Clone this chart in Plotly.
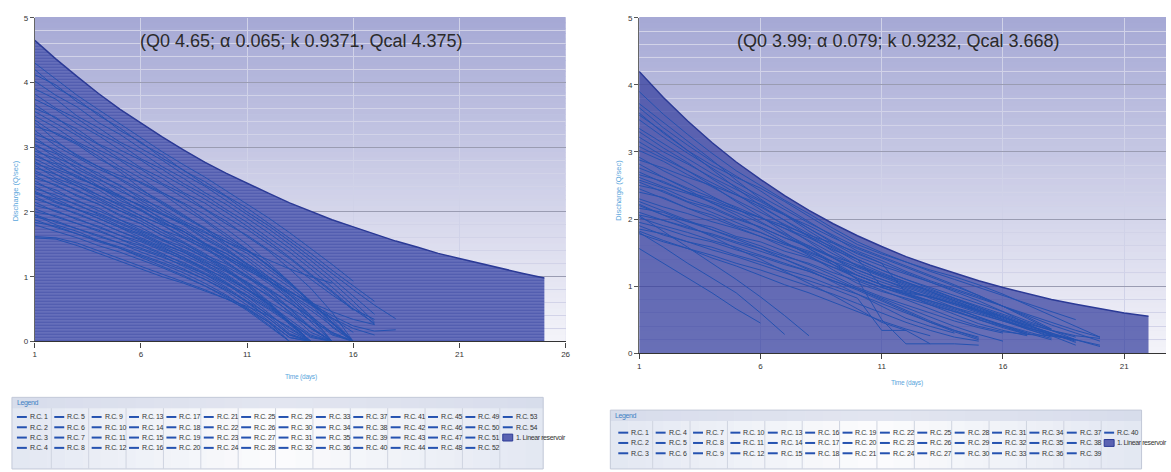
import plotly.graph_objects as go

W, H = 1171, 472

# ---------------- data ----------------
days_left = list(range(1, 26))
reservoir_left = [4.65, 4.36, 4.09, 3.83, 3.59, 3.37, 3.16, 2.96, 2.77, 2.60, 2.44, 2.29, 2.14,
                  2.01, 1.88, 1.77, 1.66, 1.55, 1.46, 1.36, 1.28, 1.20, 1.12, 1.05, 0.98]

days_right = list(range(1, 23))
reservoir_right = [4.20, 3.81, 3.46, 3.14, 2.85, 2.59, 2.35, 2.13, 1.93, 1.75, 1.59, 1.44, 1.31,
                   1.19, 1.08, 0.98, 0.89, 0.80, 0.73, 0.66, 0.60, 0.55]

# recession curves, one value per day starting at day 1
rc_left = [
    [4.30, 4.05, 3.80, 3.58, 3.36, 3.14, 2.93, 2.73, 2.54, 2.33, 2.12, 1.91, 1.68, 1.44, 1.19, 0.93],
    [4.20, 3.92, 3.74, 3.49, 3.30, 3.06, 2.88, 2.64, 2.47, 2.25, 2.06, 1.83, 1.60, 1.36, 1.10, 0.86, 0.62],
    [4.12, 3.96, 3.70, 3.52, 3.26, 3.08, 2.83, 2.65, 2.42, 2.24, 2.00, 1.79, 1.55, 1.30, 1.04, 0.80, 0.56, 0.35],
    [4.02, 3.80, 3.62, 3.38, 3.20, 2.98, 2.80, 2.58, 2.40, 2.18, 1.97, 1.74, 1.50, 1.25, 0.98, 0.70, 0.42],
    [3.90, 3.74, 3.48, 3.30, 3.08, 2.92, 2.70, 2.52, 2.30, 2.12, 1.90, 1.68, 1.44, 1.18, 0.92, 0.62, 0.30],
    [3.82, 3.60, 3.44, 3.22, 3.05, 2.82, 2.66, 2.44, 2.26, 2.04, 1.84, 1.60, 1.38, 1.12, 0.84, 0.55, 0.26],
    [3.74, 3.58, 3.36, 3.18, 2.96, 2.80, 2.58, 2.40, 2.20, 2.00, 1.78, 1.55, 1.30, 1.04, 0.78, 0.50, 0.28],
    [3.66, 3.44, 3.28, 3.05, 2.90, 2.68, 2.52, 2.30, 2.14, 1.92, 1.73, 1.50, 1.28, 1.02, 0.76, 0.48],
    [3.60, 3.46, 3.22, 3.04, 2.82, 2.66, 2.44, 2.28, 2.05, 1.86, 1.62, 1.40, 1.12, 0.82, 0.45, 0.00],
    [3.55, 3.36, 3.18, 2.96, 2.80, 2.58, 2.42, 2.22, 2.04, 1.82, 1.64, 1.42, 1.20, 0.96, 0.72, 0.50, 0.34],
    [3.48, 3.30, 3.08, 2.92, 2.70, 2.52, 2.30, 2.12, 1.88, 1.66, 1.42, 1.18, 0.90, 0.60, 0.28, 0.00],
    [3.42, 3.20, 3.04, 2.82, 2.66, 2.44, 2.28, 2.05, 1.86, 1.62, 1.42, 1.16, 0.90, 0.60, 0.30, 0.00],
    [3.38, 3.10, 2.86, 2.70, 2.56, 2.46, 2.30, 2.14, 1.96, 1.74, 1.50, 1.22, 0.92, 0.58, 0.22, 0.00],
    [3.32, 3.22, 3.06, 2.86, 2.62, 2.36, 2.12, 1.92, 1.74, 1.58, 1.40, 1.18, 0.92, 0.62, 0.30, 0.00],
    [3.26, 3.02, 2.84, 2.66, 2.52, 2.34, 2.16, 1.96, 1.74, 1.50, 1.26, 1.00, 0.72, 0.40, 0.00],
    [3.20, 3.08, 2.88, 2.70, 2.50, 2.30, 2.14, 1.94, 1.76, 1.54, 1.36, 1.12, 0.88, 0.62, 0.36, 0.14],
    [3.15, 2.92, 2.74, 2.60, 2.40, 2.24, 2.02, 1.84, 1.64, 1.44, 1.20, 0.96, 0.68, 0.36, 0.00],
    [3.10, 2.96, 2.76, 2.56, 2.42, 2.20, 2.06, 1.86, 1.70, 1.48, 1.30, 1.06, 0.84, 0.58, 0.34, 0.00],
    [3.05, 2.84, 2.70, 2.52, 2.32, 2.18, 1.98, 1.82, 1.60, 1.42, 1.18, 0.94, 0.64, 0.30, 0.00],
    [3.02, 2.90, 2.66, 2.50, 2.36, 2.14, 1.96, 1.80, 1.58, 1.40, 1.20, 1.00, 0.78, 0.56, 0.36, 0.20, 0.10],
    [2.98, 2.76, 2.62, 2.40, 2.26, 2.08, 1.90, 1.70, 1.52, 1.30, 1.06, 0.80, 0.52, 0.22, 0.00],
    [2.94, 2.82, 2.60, 2.46, 2.24, 2.10, 1.88, 1.74, 1.52, 1.36, 1.14, 0.94, 0.72, 0.48, 0.24, 0.00],
    [2.90, 2.70, 2.56, 2.38, 2.22, 2.02, 1.86, 1.66, 1.46, 1.24, 1.00, 0.74, 0.44, 0.14, 0.00],
    [2.86, 2.74, 2.52, 2.40, 2.18, 2.04, 1.84, 1.70, 1.50, 1.32, 1.12, 0.90, 0.66, 0.40, 0.12, 0.00],
    [2.82, 2.66, 2.54, 2.38, 2.24, 2.10, 1.96, 1.82, 1.68, 1.54, 1.40, 1.26, 1.12, 1.00, 0.90],
    [2.78, 2.58, 2.44, 2.26, 2.12, 1.94, 1.80, 1.60, 1.44, 1.22, 1.02, 0.78, 0.50, 0.20, 0.00],
    [2.75, 2.64, 2.46, 2.34, 2.14, 2.02, 1.82, 1.70, 1.50, 1.36, 1.16, 0.98, 0.78, 0.58, 0.40, 0.24, 0.16, 0.18],
    [2.72, 2.52, 2.40, 2.22, 2.06, 1.90, 1.72, 1.54, 1.36, 1.14, 0.90, 0.62, 0.30, 0.00],
    [2.68, 2.58, 2.40, 2.26, 2.10, 1.94, 1.80, 1.62, 1.48, 1.30, 1.14, 0.94, 0.74, 0.52, 0.28, 0.00],
    [2.64, 2.46, 2.34, 2.16, 2.02, 1.86, 1.68, 1.52, 1.32, 1.12, 0.88, 0.60, 0.30, 0.00],
    [2.60, 2.50, 2.32, 2.20, 2.02, 1.90, 1.72, 1.60, 1.42, 1.28, 1.10, 0.94, 0.76, 0.60, 0.46, 0.34, 0.26],
    [2.56, 2.40, 2.26, 2.12, 1.96, 1.82, 1.64, 1.48, 1.30, 1.10, 0.86, 0.58, 0.26, 0.00],
    [2.52, 2.42, 2.24, 2.12, 1.94, 1.82, 1.64, 1.52, 1.34, 1.20, 1.00, 0.82, 0.60, 0.36, 0.10, 0.00],
    [2.48, 2.30, 2.18, 2.02, 1.88, 1.72, 1.58, 1.40, 1.24, 1.04, 0.82, 0.58, 0.30, 0.00],
    [2.44, 2.34, 2.16, 2.06, 1.88, 1.76, 1.58, 1.46, 1.30, 1.16, 0.98, 0.80, 0.60, 0.38, 0.14, 0.00],
    [2.40, 2.22, 2.12, 1.96, 1.82, 1.68, 1.52, 1.38, 1.20, 1.02, 0.80, 0.56, 0.28, 0.00],
    [2.36, 2.26, 2.10, 1.98, 1.84, 1.70, 1.56, 1.42, 1.26, 1.10, 0.92, 0.70, 0.46, 0.20, 0.00],
    [2.32, 2.16, 2.04, 1.90, 1.76, 1.60, 1.46, 1.30, 1.12, 0.92, 0.70, 0.44, 0.16, 0.00],
    [2.28, 2.20, 2.04, 1.94, 1.78, 1.66, 1.50, 1.38, 1.22, 1.08, 0.90, 0.72, 0.52, 0.32, 0.14, 0.00],
    [2.24, 2.08, 1.98, 1.84, 1.70, 1.56, 1.42, 1.26, 1.10, 0.90, 0.66, 0.40, 0.12, 0.00],
    [2.20, 2.10, 1.96, 1.84, 1.70, 1.58, 1.44, 1.30, 1.14, 0.96, 0.76, 0.54, 0.30, 0.06, 0.00],
    [2.15, 2.00, 1.90, 1.76, 1.64, 1.50, 1.36, 1.20, 1.04, 0.84, 0.62, 0.36, 0.10, 0.00],
    [2.10, 2.02, 1.88, 1.78, 1.64, 1.54, 1.40, 1.28, 1.12, 0.98, 0.80, 0.62, 0.42, 0.22, 0.00],
    [2.05, 1.92, 1.82, 1.70, 1.58, 1.44, 1.32, 1.16, 1.00, 0.82, 0.60, 0.36, 0.10, 0.00],
    [2.00, 1.94, 1.82, 1.72, 1.58, 1.48, 1.34, 1.22, 1.06, 0.90, 0.72, 0.52, 0.30, 0.08, 0.00],
    [1.96, 1.84, 1.74, 1.62, 1.52, 1.38, 1.26, 1.12, 0.96, 0.78, 0.56, 0.32, 0.06, 0.00],
    [1.92, 1.86, 1.74, 1.64, 1.52, 1.42, 1.30, 1.18, 1.04, 0.88, 0.70, 0.50, 0.28, 0.00],
    [1.88, 1.76, 1.66, 1.54, 1.44, 1.32, 1.20, 1.06, 0.90, 0.72, 0.50, 0.26, 0.00],
    [1.84, 1.78, 1.66, 1.56, 1.46, 1.34, 1.22, 1.10, 0.96, 0.80, 0.62, 0.42, 0.20, 0.00],
    [1.80, 1.70, 1.60, 1.48, 1.38, 1.26, 1.14, 1.00, 0.86, 0.68, 0.48, 0.24, 0.00],
    [1.62, 1.60, 1.52, 1.40, 1.28, 1.16, 1.04, 0.92, 0.80, 0.66, 0.50, 0.30, 0.00],
    [1.60, 1.58, 1.48, 1.36, 1.24, 1.12, 1.00, 0.90, 0.78, 0.66, 0.54, 0.40, 0.22, 0.00, 0.00, 0.00,
     0.00, 0.00, 0.00, 0.00, 0.00, 0.00, 0.00],
    [1.95, 1.80, 1.70, 1.56, 1.44, 1.30, 1.16, 1.02, 0.86, 0.70, 0.52, 0.30, 0.06, 0.00],
    [2.30, 2.14, 2.04, 1.90, 1.76, 1.64, 1.48, 1.34, 1.18, 1.00, 0.80, 0.58, 0.34, 0.10, 0.00],
]

rc_right = [
    [3.90, 3.56, 3.26, 2.98, 2.72, 2.50, 2.28, 2.08, 1.86, 1.66, 1.50, 1.36, 1.22, 1.10, 0.98, 0.86, 0.74, 0.62, 0.50],
    [3.72, 3.44, 3.16, 2.88, 2.58, 2.30, 2.06, 1.82, 1.60, 1.40, 1.24, 1.10, 0.98, 0.86, 0.74, 0.62, 0.48, 0.36],
    [3.66, 3.36, 3.10, 2.86, 2.64, 2.42, 2.18, 1.96, 1.74, 1.52, 1.38, 1.22, 1.08, 0.96, 0.84, 0.70, 0.56, 0.42, 0.30, 0.18],
    [3.55, 3.30, 3.02, 2.74, 2.46, 2.20, 1.98, 1.74, 1.52, 1.30, 1.16, 1.02, 0.90, 0.78, 0.66, 0.54, 0.42, 0.30],
    [3.48, 3.22, 2.98, 2.76, 2.54, 2.34, 2.14, 1.94, 1.76, 1.58, 1.44, 1.30, 1.16, 1.02, 0.86, 0.70, 0.52, 0.34, 0.20, 0.10],
    [3.30, 3.06, 2.84, 2.60, 2.38, 2.14, 1.90, 1.66, 1.42, 1.20, 1.06, 0.94, 0.84, 0.74, 0.62, 0.50, 0.38, 0.28],
    [3.22, 3.00, 2.82, 2.62, 2.44, 2.26, 2.06, 1.86, 1.66, 1.48, 1.34, 1.20, 1.06, 0.92, 0.78, 0.62, 0.44, 0.26, 0.12],
    [3.15, 2.94, 2.72, 2.50, 2.26, 2.04, 1.80, 1.56, 1.32, 1.10, 0.98, 0.88, 0.78, 0.68, 0.58, 0.48, 0.38, 0.28, 0.20],
    [3.08, 2.90, 2.72, 2.54, 2.36, 2.18, 1.98, 1.78, 1.56, 1.36, 1.20, 1.06, 0.92, 0.78, 0.64, 0.50, 0.36, 0.24],
    [3.02, 2.86, 2.66, 2.48, 2.28, 2.10, 1.92, 1.74, 1.58, 1.40, 1.00, 0.92, 0.84, 0.74, 0.64, 0.54, 0.42, 0.30, 0.16],
    [2.92, 2.72, 2.54, 2.34, 2.16, 1.96, 1.76, 1.56, 1.36, 1.16, 1.02, 0.90, 0.78, 0.66, 0.54, 0.42, 0.30, 0.20],
    [2.88, 2.76, 2.62, 2.50, 2.36, 2.22, 2.06, 1.90, 1.72, 1.56, 1.42, 1.28, 1.14, 1.00, 0.86, 0.70, 0.54, 0.36],
    [2.82, 2.62, 2.44, 2.24, 2.06, 1.86, 1.66, 1.46, 1.24, 1.04, 0.92, 0.82, 0.72, 0.62, 0.52, 0.42, 0.32, 0.22],
    [2.76, 2.62, 2.46, 2.32, 2.18, 2.02, 1.86, 1.68, 1.48, 1.30, 1.16, 1.04, 0.92, 0.80, 0.68, 0.56, 0.44, 0.34, 0.26, 0.22],
    [2.70, 2.54, 2.40, 2.24, 2.10, 1.94, 1.78, 1.60, 1.42, 1.24, 1.10, 0.96, 0.82, 0.68, 0.54, 0.40, 0.28],
    [2.66, 2.56, 2.40, 2.30, 2.14, 2.02, 1.86, 1.72, 1.54, 1.40, 1.24, 1.10, 0.96, 0.82, 0.68, 0.54, 0.40],
    [2.62, 2.48, 2.38, 2.26, 2.14, 2.02, 1.90, 1.76, 1.64, 1.50, 1.34, 0.90, 0.84, 0.72, 0.60, 0.48, 0.36, 0.26, 0.20],
    [2.58, 2.46, 2.30, 2.18, 2.02, 1.88, 1.72, 1.58, 1.42, 1.28, 1.14, 1.00, 0.88, 0.76, 0.64, 0.52, 0.40, 0.30, 0.20],
    [2.55, 2.40, 2.26, 2.10, 1.96, 1.80, 1.64, 1.48, 1.32, 1.16, 1.02, 0.88, 0.76, 0.64, 0.50, 0.38, 0.28],
    [2.50, 2.42, 2.26, 2.16, 2.00, 1.88, 1.72, 1.60, 1.44, 1.32, 1.18, 1.06, 0.94, 0.82, 0.70, 0.58, 0.46, 0.34, 0.24],
    [2.45, 2.30, 2.16, 2.02, 1.88, 1.74, 1.58, 1.44, 1.28, 1.12, 0.98, 0.86, 0.74, 0.62, 0.50, 0.40, 0.30],
    [2.40, 2.32, 2.16, 2.06, 1.90, 1.80, 1.64, 1.52, 1.36, 1.24, 1.10, 0.98, 0.86, 0.74, 0.62, 0.50, 0.38, 0.28, 0.18],
    [2.30, 2.18, 2.08, 1.96, 1.86, 1.74, 1.62, 1.50, 1.36, 1.10, 0.50, 0.14, 0.14],
    [2.20, 2.06, 1.96, 1.84, 1.72, 1.60, 1.46, 1.32, 1.16, 0.98, 0.84, 0.72, 0.60, 0.48, 0.38, 0.30],
    [2.16, 2.10, 1.96, 1.88, 1.74, 1.66, 1.52, 1.42, 1.28, 1.16, 1.02, 0.88, 0.72, 0.58, 0.44, 0.34, 0.26],
    [2.10, 1.98, 1.88, 1.76, 1.64, 1.52, 1.40, 1.26, 1.12, 0.96, 0.80, 0.64, 0.48, 0.34, 0.22],
    [2.06, 1.98, 1.86, 1.78, 1.66, 1.56, 1.44, 1.34, 1.20, 1.08, 0.94, 0.80, 0.66, 0.52, 0.40, 0.32, 0.28, 0.26, 0.20, 0.12],
    [2.02, 1.90, 1.80, 1.68, 1.58, 1.46, 1.34, 1.22, 1.08, 0.94, 0.78, 0.62, 0.46, 0.32, 0.20],
    [1.95, 1.86, 1.74, 1.66, 1.54, 1.44, 1.32, 1.22, 1.08, 0.96, 0.82, 0.68, 0.54, 0.40, 0.28, 0.18],
    [1.90, 1.76, 1.66, 1.54, 1.44, 1.32, 1.20, 1.08, 0.96, 0.82, 0.34, 0.34, 0.14, 0.14, 0.12],
    [1.85, 1.78, 1.66, 1.58, 1.46, 1.36, 1.24, 1.14, 1.00, 0.88, 0.74, 0.60, 0.46, 0.34, 0.24],
    [1.82, 1.68, 1.56, 1.42, 1.30, 1.16, 1.02, 0.90, 0.76, 0.62, 0.48, 0.36, 0.26],
    [1.78, 1.66, 1.56, 1.46, 1.34, 1.24, 1.12, 1.00, 0.88, 0.74, 0.60, 0.46, 0.34, 0.24, 0.18],
    [2.22, 2.06, 1.90, 1.74, 1.56, 1.40, 1.22, 1.04, 0.86, 0.66, 0.46, 0.34],
    [1.56, 1.34, 1.12, 0.90, 0.66, 0.45],
    [1.80, 1.58, 1.34, 1.12, 0.90, 0.60, 0.28],
    [2.05, 1.82, 1.58, 1.34, 1.10, 0.84, 0.56, 0.26],
    [2.26, 2.12, 1.98, 1.84, 1.70, 1.56, 1.40, 1.24, 1.06, 0.88, 0.70, 0.52, 0.40, 0.30],
    [3.58, 3.28, 3.02, 2.80, 2.62, 2.46, 2.26, 2.04, 1.82, 1.62, 1.48, 1.36, 1.24, 1.14, 1.02, 0.88, 0.72, 0.56, 0.40, 0.24],
    [3.35, 3.12, 2.90, 2.68, 2.48, 2.28, 2.08, 1.86, 1.64, 1.44, 1.30, 1.18, 1.06, 0.94, 0.82, 0.70, 0.58, 0.46, 0.34, 0.24],
]

names_left = [f"R.C. {i + 1}" for i in range(len(rc_left))]
names_right = [f"R.C. {i + 1}" for i in range(len(rc_right))]
reservoir_name = "1. Linear reservoir"

params_left = "(Q0 4.65; α 0.065; k 0.9371, Qcal 4.375)"
params_right = "(Q0 3.99; α 0.079; k 0.9232, Qcal 3.668)"

x_ticks_left = [1, 6, 11, 16, 21, 26]
x_ticks_right = [1, 6, 11, 16, 21]
y_ticks = [0, 1, 2, 3, 4, 5]

# ---------------- styling ----------------
SANS = "Liberation Sans, Arial, sans-serif"
LINE_BLUE = "#2552b0"
TITLE_BLUE = "#5aa6dc"


def px(x):
    return x / W


def py(y):
    return 1 - y / H


def mix(c0, c1, t):
    return "rgb(%d,%d,%d)" % tuple(round(a + (b - a) * t) for a, b in zip(c0, c1))


def tight(s, spacing=-0.4):
    # squeeze small labels a little so they read like a condensed face
    return f'<span style="letter-spacing:{spacing}px">{s}</span>'


fig = go.Figure()

# linear reservoir areas
fig.add_trace(go.Scatter(
    x=days_left, y=reservoir_left, name=reservoir_name, mode="lines",
    fill="tozeroy", line=dict(color="#2b3a96", width=1.5),
    fillpattern=dict(shape="-", fgcolor="#2a3a9c", bgcolor="#6e76be", size=3, solidity=0.5),
    xaxis="x", yaxis="y", showlegend=False, hoverinfo="skip"))
fig.add_trace(go.Scatter(
    x=days_right, y=reservoir_right, name=reservoir_name, mode="lines",
    fill="tozeroy", line=dict(color="#2b3a96", width=1.5),
    fillcolor="rgba(50,60,157,0.72)",
    xaxis="x2", yaxis="y2", showlegend=False, hoverinfo="skip"))

# recession curves
for name, vals in zip(names_left, rc_left):
    fig.add_trace(go.Scatter(x=days_left[:len(vals)], y=vals, name=name, mode="lines",
                             line=dict(color=LINE_BLUE, width=1), xaxis="x", yaxis="y",
                             showlegend=False))
for name, vals in zip(names_right, rc_right):
    fig.add_trace(go.Scatter(x=days_right[:len(vals)], y=vals, name=name, mode="lines",
                             line=dict(color=LINE_BLUE, width=1), xaxis="x2", yaxis="y2",
                             showlegend=False))

shapes = []
annotations = []

# vertical gradient behind each plot area
TOP_C, BOT_C = (166, 169, 213), (243, 243, 249)
NB = 60
for xr, yr in (("x domain", "y domain"), ("x2 domain", "y2 domain")):
    for i in range(NB):
        shapes.append(dict(type="rect", xref=xr, yref=yr, x0=0, x1=1,
                           y0=1 - (i + 1) / NB, y1=1 - i / NB + 0.002,
                           fillcolor=mix(TOP_C, BOT_C, i / (NB - 1)),
                           line=dict(width=0), layer="below"))


def legend_block(names, per_col, box_x0, box_y0, col_x0, row_y0, dx=37.6, dy=10.5):
    box_x1 = box_x0 + 14 * dx + 8
    # panel background: light in the middle, greyer towards the ends
    ns = 30
    edge, centre = (226, 231, 242), (252, 252, 253)
    for i in range(ns):
        t = 1 - abs((i + 0.5) / ns - 0.5) * 2
        shapes.append(dict(type="rect", xref="paper", yref="paper",
                           x0=px(box_x0 + (box_x1 - box_x0) * i / ns),
                           x1=px(box_x0 + (box_x1 - box_x0) * (i + 1) / ns + 0.5),
                           y0=py(H + 2), y1=py(box_y0),
                           fillcolor=mix(edge, centre, t), line=dict(width=0)))
    shapes.append(dict(type="rect", xref="paper", yref="paper",
                       x0=px(box_x0), x1=px(box_x1), y0=py(box_y0 + 11), y1=py(box_y0),
                       fillcolor="rgba(205,212,230,0.55)", line=dict(width=0)))
    shapes.append(dict(type="rect", xref="paper", yref="paper",
                       x0=px(box_x0), x1=px(box_x1), y0=py(H + 2), y1=py(box_y0),
                       fillcolor="rgba(0,0,0,0)", line=dict(color="#c3c9d8", width=1)))
    annotations.append(dict(text=tight("Legend"), xref="paper", yref="paper", x=px(box_x0 + 3),
                            y=py(box_y0 + 6), xanchor="left", yanchor="middle", showarrow=False,
                            font=dict(family=SANS, size=7, color="#3f7fc4")))
    entries = list(names) + [reservoir_name]
    n_cols = (len(entries) + per_col - 1) // per_col
    for c in range(1, n_cols):
        xd = col_x0 + c * dx - 3
        shapes.append(dict(type="line", xref="paper", yref="paper", x0=px(xd), x1=px(xd),
                           y0=py(H + 2), y1=py(box_y0 + 11), line=dict(color="#cfd4e0", width=1)))
    for k, label in enumerate(entries):
        c, r = divmod(k, per_col)
        cx = col_x0 + c * dx
        cy = row_y0 + r * dy
        if label == reservoir_name:
            shapes.append(dict(type="rect", xref="paper", yref="paper", x0=px(cx), x1=px(cx + 10),
                               y0=py(cy + 3.5), y1=py(cy - 3.5), fillcolor="#5a62b2",
                               line=dict(color="#2b3a96", width=1)))
        else:
            shapes.append(dict(type="line", xref="paper", yref="paper", x0=px(cx), x1=px(cx + 10),
                               y0=py(cy), y1=py(cy), line=dict(color=LINE_BLUE, width=2)))
        annotations.append(dict(text=tight(label), xref="paper", yref="paper", x=px(cx + 11),
                                y=py(cy), xanchor="left", yanchor="middle", showarrow=False,
                                font=dict(family=SANS, size=7, color="#333333")))


legend_block(names_left, 4, 10, 401, 15, 421)
legend_block(names_right, 3, 612, 414, 620, 437)

# parameter labels
for text, xc in ((params_left, 301), (params_right, 902)):
    annotations.append(dict(text=text, xref="paper", yref="paper", x=px(xc), y=py(38),
                            xanchor="center", yanchor="middle", showarrow=False,
                            font=dict(family=SANS, size=18, color="#2a2a2a")))

# axis titles
for xc, yc in ((301, 380), (910, 386)):
    annotations.append(dict(text=tight("Time (days)", -0.2), xref="paper", yref="paper",
                            x=px(xc), y=py(yc), xanchor="center", yanchor="middle",
                            showarrow=False, font=dict(family=SANS, size=6.5, color=TITLE_BLUE)))
for xc, yc in ((13, 190), (620, 190)):
    annotations.append(dict(text="Discharge (Q/sec)", xref="paper", yref="paper",
                            x=px(xc), y=py(yc), xanchor="center", yanchor="middle",
                            showarrow=False, textangle=-90,
                            font=dict(family=SANS, size=7.5, color=TITLE_BLUE)))

x_common = dict(showgrid=True, gridcolor="#d0d2e8", gridwidth=1, zeroline=False,
                showline=True, linecolor="#333333", linewidth=1.2, ticks="outside", ticklen=5,
                tickcolor="#444444", tickfont=dict(family=SANS, size=8, color="#333333"))
y_common = dict(showgrid=True, gridcolor="#9a9cb2", gridwidth=1, zeroline=False,
                showline=True, linecolor="#666666", linewidth=1, ticks="outside", ticklen=4,
                tickcolor="#555555", tickfont=dict(family=SANS, size=8, color="#333333"),
                tickvals=y_ticks, range=[0, 5],
                minor=dict(dtick=0.2, tick0=0, showgrid=True, gridcolor="#d2d3e8", gridwidth=1))

fig.update_layout(
    width=W, height=H, margin=dict(l=0, r=0, t=0, b=0),
    paper_bgcolor="white", plot_bgcolor="#d0d2ea", showlegend=False,
    xaxis=dict(domain=[px(33), px(567)], range=[1, 26], tickvals=x_ticks_left, anchor="y", **x_common),
    yaxis=dict(domain=[py(344), py(14)], anchor="x", **y_common),
    xaxis2=dict(domain=[px(641), 1.0], range=[1, 1 + (W - 641) / 24.4], tickvals=x_ticks_right,
                anchor="y2", **x_common),
    yaxis2=dict(domain=[py(356), py(14)], anchor="x2", **y_common),
    shapes=shapes, annotations=annotations,
)

fig.write_html("out.html")
